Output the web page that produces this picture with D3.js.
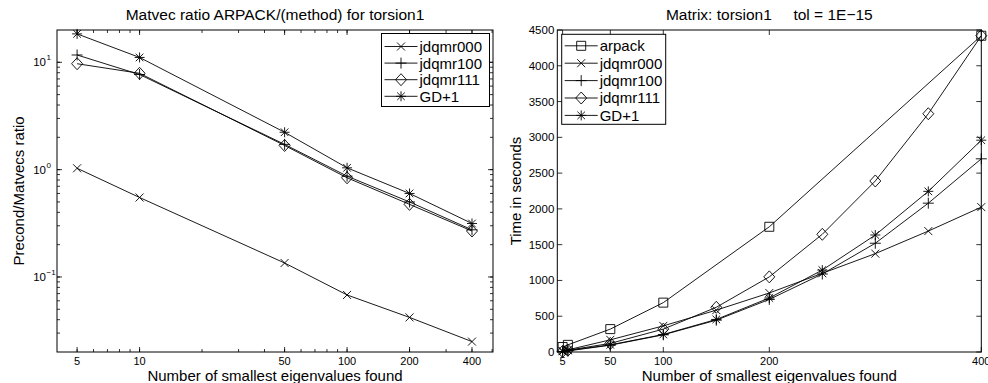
<!DOCTYPE html>
<html><head><meta charset="utf-8">
<script src="https://cdn.jsdelivr.net/npm/d3@7"></script>
<style>
body{margin:0;background:#fff;}
svg{display:block;font-family:"Liberation Sans",Arial,Helvetica,sans-serif;}
</style></head>
<body>
<svg id="c" width="988" height="383"></svg>
<script>
// ---- Left chart data (matvec ratio) ----
const ratioX = [5, 10, 50, 100, 200, 400];
const ratio000 = [1.03, 0.55, 0.135, 0.068, 0.042, 0.025];
const ratio100 = [11.7, 7.7, 1.72, 0.87, 0.50, 0.275];
const ratio111 = [9.7, 7.9, 1.68, 0.84, 0.475, 0.268];
const ratioGD  = [18.4, 11.1, 2.23, 1.04, 0.60, 0.315];
const ratioXTicks = [5, 10, 50, 100, 200, 400];
const ratioYTicks = [0.1, 1, 10];
const ratioYTickExp = ["−1", "0", "1"];

// ---- Right chart data (time) ----
const arpackX = [5, 10, 50, 100, 200, 400];
const arpackT = [70, 100, 320, 690, 1750, 4420];
const timeX = [5, 10, 50, 100, 150, 200, 250, 300, 350, 400];
const time000 = [15, 30, 170, 365, 585, 825, 1100, 1375, 1690, 2025];
const time100 = [5, 15, 95, 240, 445, 735, 1090, 1520, 2080, 2700];
const time111 = [8, 25, 120, 320, 625, 1050, 1645, 2390, 3330, 4420];
const timeGD  = [8, 20, 100, 245, 455, 755, 1145, 1635, 2245, 2960];
const timeXTicks = [5, 50, 100, 200, 400];
const timeYTicks = [0, 500, 1000, 1500, 2000, 2500, 3000, 3500, 4000, 4500];

const leftNames = ["jdqmr000", "jdqmr100", "jdqmr111", "GD+1"];
const leftMarkers = ["x", "plus", "diamond", "star"];
const rightNames = ["arpack", "jdqmr000", "jdqmr100", "jdqmr111", "GD+1"];
const rightMarkers = ["square", "x", "plus", "diamond", "star"];

const svg = d3.select("#c");

function markerPath(type) {
  switch (type) {
    case "x": { const s = 4; return `M${-s},${-s}L${s},${s}M${-s},${s}L${s},${-s}`; }
    case "plus": { const s = 5.5; return `M${-s},0L${s},0M0,${-s}L0,${s}`; }
    case "diamond": { const w = 5.5, h = 6; return `M0,${-h}L${w},0L0,${h}L${-w},0Z`; }
    case "square": { const s = 4.5; return `M${-s},${-s}H${s}V${s}H${-s}Z`; }
    case "star": { const s = 5, d = 3.8; return `M${-s},0L${s},0M0,${-s}L0,${s}M${-d},${-d}L${d},${d}M${-d},${d}L${d},${-d}`; }
  }
}
function drawMarker(g, type, x, y) {
  g.append("path").attr("d", markerPath(type)).attr("transform", `translate(${x},${y})`)
    .attr("fill", "none").attr("stroke", "#000").attr("stroke-width", 0.9);
}
function drawSeries(g, xs, ys, xS, yS, type) {
  const line = d3.line().x((d, i) => xS(xs[i])).y(d => yS(d));
  g.append("path").datum(ys).attr("d", line).attr("fill", "none")
    .attr("stroke", "#000").attr("stroke-width", 0.9);
  ys.forEach((v, i) => drawMarker(g, type, xS(xs[i]), yS(v)));
}
function drawLegend(g, x0, y0, w, h, names, markers, spacing, first) {
  g.append("rect").attr("x", x0).attr("y", y0).attr("width", w).attr("height", h)
    .attr("fill", "#fff").attr("stroke", "#000").attr("stroke-width", 1);
  names.forEach((n, i) => {
    const y = y0 + first + i * spacing;
    g.append("line").attr("x1", x0 + 3).attr("x2", x0 + 36).attr("y1", y).attr("y2", y)
      .attr("stroke", "#000").attr("stroke-width", 0.9);
    drawMarker(g, markers[i], x0 + 19.5, y);
    g.append("text").attr("x", x0 + 38).attr("y", y).attr("dy", "0.36em")
      .attr("font-size", 15).text(n);
  });
}

// ===== LEFT CHART =====
const L = {l: 57, r: 493, t: 30, b: 352};
const lx = d3.scaleLog().domain([4, 505]).range([L.l, L.r]);
const ly = d3.scaleLog().domain([0.02, 20]).range([L.b, L.t]);
const gL = svg.append("g");

const minorX = [];
[1, 10, 100].forEach(dec => { for (let k = 1; k <= 9; k++) { const v = k * dec; if (v > 4 && v < 505) minorX.push(v); } });
const minorY = [];
[0.01, 0.1, 1, 10].forEach(dec => { for (let k = 1; k <= 9; k++) { const v = k * dec; if (v > 0.02 && v < 20) minorY.push(v); } });

minorX.forEach(v => {
  const x = lx(v);
  gL.append("line").attr("x1", x).attr("x2", x).attr("y1", L.b).attr("y2", L.b - 3).attr("stroke", "#000").attr("stroke-width", 0.8);
  gL.append("line").attr("x1", x).attr("x2", x).attr("y1", L.t).attr("y2", L.t + 3).attr("stroke", "#000").attr("stroke-width", 0.8);
});
ratioXTicks.forEach(v => {
  const x = lx(v);
  gL.append("line").attr("x1", x).attr("x2", x).attr("y1", L.b).attr("y2", L.b - 5).attr("stroke", "#000").attr("stroke-width", 0.8);
  gL.append("line").attr("x1", x).attr("x2", x).attr("y1", L.t).attr("y2", L.t + 5).attr("stroke", "#000").attr("stroke-width", 0.8);
  gL.append("text").attr("x", x).attr("y", L.b + 13).attr("text-anchor", "middle").attr("font-size", 11).text(v);
});
minorY.forEach(v => {
  const y = ly(v);
  gL.append("line").attr("x1", L.l).attr("x2", L.l + 3).attr("y1", y).attr("y2", y).attr("stroke", "#000").attr("stroke-width", 0.8);
  gL.append("line").attr("x1", L.r).attr("x2", L.r - 3).attr("y1", y).attr("y2", y).attr("stroke", "#000").attr("stroke-width", 0.8);
});
ratioYTicks.forEach((v, i) => {
  const y = ly(v);
  gL.append("line").attr("x1", L.l).attr("x2", L.l + 5).attr("y1", y).attr("y2", y).attr("stroke", "#000").attr("stroke-width", 0.8);
  gL.append("line").attr("x1", L.r).attr("x2", L.r - 5).attr("y1", y).attr("y2", y).attr("stroke", "#000").attr("stroke-width", 0.8);
  gL.append("text").attr("x", 46).attr("y", y + 4).attr("text-anchor", "end").attr("font-size", 11.5).text("10");
  gL.append("text").attr("x", 46.5).attr("y", y - 2).attr("font-size", 8).text(ratioYTickExp[i]);
});
gL.append("rect").attr("x", L.l).attr("y", L.t).attr("width", L.r - L.l).attr("height", L.b - L.t)
  .attr("fill", "none").attr("stroke", "#000").attr("stroke-width", 1);

[ratio000, ratio100, ratio111, ratioGD].forEach((s, i) => drawSeries(gL, ratioX, s, lx, ly, leftMarkers[i]));

gL.append("text").attr("x", (L.l + L.r) / 2).attr("y", 20).attr("text-anchor", "middle").attr("font-size", 15.5)
  .text("Matvec ratio ARPACK/(method) for torsion1");
gL.append("text").attr("x", (L.l + L.r) / 2).attr("y", 381).attr("text-anchor", "middle").attr("font-size", 15)
  .text("Number of smallest eigenvalues found");
gL.append("text").attr("transform", `translate(24,${(L.t + L.b) / 2}) rotate(-90)`).attr("text-anchor", "middle").attr("font-size", 15)
  .text("Precond/Matvecs ratio");
drawLegend(gL, 381.5, 33.5, 108, 73, leftNames, leftMarkers, 16.6, 13);

// ===== RIGHT CHART =====
const R = {l: 557.3, r: 981.3, t: 30, b: 352};
const rx = d3.scaleLinear().domain([0, 400]).range([R.l, R.r]);
const ry = d3.scaleLinear().domain([0, 4500]).range([R.b, R.t]);
const gR = svg.append("g");

timeXTicks.forEach(v => {
  const x = rx(v);
  gR.append("line").attr("x1", x).attr("x2", x).attr("y1", R.b).attr("y2", R.b - 5).attr("stroke", "#000").attr("stroke-width", 0.8);
  gR.append("line").attr("x1", x).attr("x2", x).attr("y1", R.t).attr("y2", R.t + 5).attr("stroke", "#000").attr("stroke-width", 0.8);
  gR.append("text").attr("x", x).attr("y", R.b + 13).attr("text-anchor", "middle").attr("font-size", 11).text(v);
});
timeYTicks.forEach(v => {
  const y = ry(v);
  gR.append("line").attr("x1", R.l).attr("x2", R.l + 5).attr("y1", y).attr("y2", y).attr("stroke", "#000").attr("stroke-width", 0.8);
  gR.append("line").attr("x1", R.r).attr("x2", R.r - 5).attr("y1", y).attr("y2", y).attr("stroke", "#000").attr("stroke-width", 0.8);
  gR.append("text").attr("x", R.l - 3).attr("y", y + 4).attr("text-anchor", "end").attr("font-size", 11.5).text(v);
});
gR.append("rect").attr("x", R.l).attr("y", R.t).attr("width", R.r - R.l).attr("height", R.b - R.t)
  .attr("fill", "none").attr("stroke", "#000").attr("stroke-width", 1);

drawSeries(gR, arpackX, arpackT, rx, ry, "square");
[time000, time100, time111, timeGD].forEach((s, i) => drawSeries(gR, timeX, s, rx, ry, rightMarkers[i + 1]));

gR.append("text").attr("x", (R.l + R.r) / 2).attr("y", 20).attr("text-anchor", "middle").attr("font-size", 15.5)
  .style("white-space", "pre")
  .text("Matrix: torsion1     tol = 1E\u221215");
gR.append("text").attr("x", (R.l + R.r) / 2).attr("y", 381).attr("text-anchor", "middle").attr("font-size", 15)
  .text("Number of smallest eigenvalues found");
gR.append("text").attr("transform", `translate(521,${(R.t + R.b) / 2}) rotate(-90)`).attr("text-anchor", "middle").attr("font-size", 15)
  .text("Time in seconds");
drawLegend(gR, 561.7, 34.3, 104, 90, rightNames, rightMarkers, 17.4, 11.5);
</script>
</body></html>
